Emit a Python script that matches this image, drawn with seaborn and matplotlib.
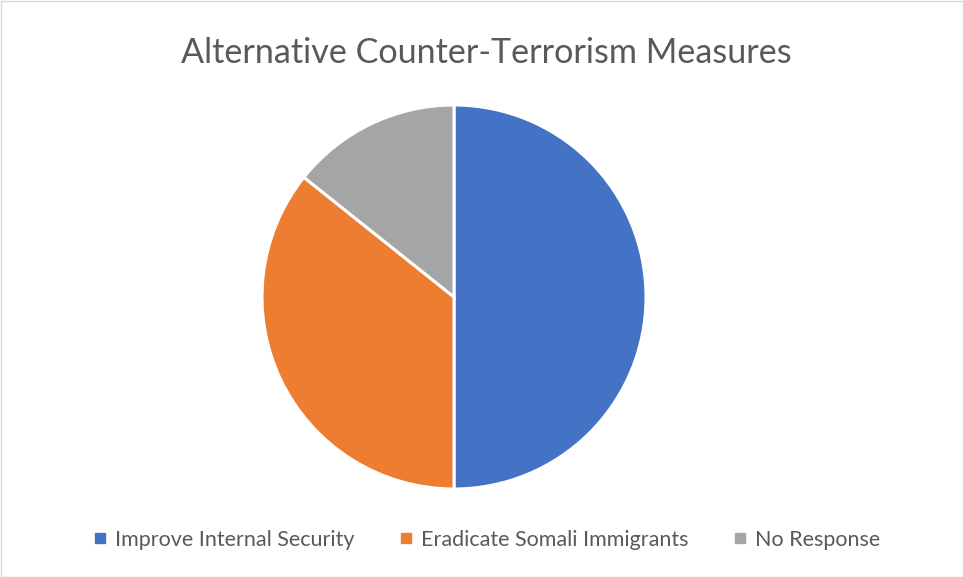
import matplotlib
matplotlib.use("Agg")
import matplotlib.pyplot as plt
import seaborn as sns
from matplotlib.lines import Line2D
from matplotlib.patches import Rectangle

categories = ["Improve Internal Security", "Eradicate Somali Immigrants", "No Response"]
values = [7, 5, 2]
colors = ["#4472C4", "#ED7D31", "#A5A5A5"]
title = "Alternative Counter-Terrorism Measures"

sns.set_theme(style="white")
plt.rcParams['font.family'] = ['Lato', 'DejaVu Sans']

fig = plt.figure(figsize=(9.63, 5.77), dpi=100)
fig.patch.set_facecolor("white")

ax = fig.add_axes([262/963, (577-489)/577, 384/963, 384/577])
ax.pie(values, colors=colors, startangle=90, counterclock=False,
       wedgeprops=dict(edgecolor="white", linewidth=2.2), radius=1)
ax.set_xlim(-1.0, 1.0)
ax.set_ylim(-1.0, 1.0)
ax.set_aspect("equal")
ax.axis("off")

fig.text(486/963, 1 - 53/577, title, ha="center", va="center",
         fontsize=24.6, color="#595959")

handles = [Line2D([0], [0], marker="s", linestyle="none", markersize=7.5,
                  markerfacecolor=c, markeredgecolor=c) for c in colors]
fig.legend(handles, categories, loc="center", bbox_to_anchor=(486/963, 1 - 540/577),
           ncol=3, frameon=False, fontsize=15.5, labelcolor="#595959",
           handletextpad=0.3, columnspacing=2.0, handlelength=0.8)

fig.add_artist(Rectangle((0.5/963, 0.5/577), 1 - 1/963, 1 - 1/577, transform=fig.transFigure,
                         fill=False, edgecolor="#D9D9D9", linewidth=1))

fig.savefig("out.png", dpi=100, facecolor="white")
